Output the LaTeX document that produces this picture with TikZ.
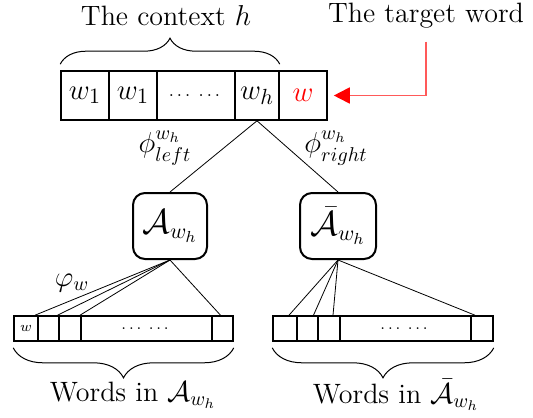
\documentclass[tikz,border=0pt]{standalone}
\usepackage{amsmath}
\usepackage{amsfonts}
\usetikzlibrary{shapes, arrows.meta, decorations.pathreplacing}

\begin{document}
\begin{tikzpicture}[x=0.5pt, y=-0.5pt, font=\fontsize{14}{17}\selectfont,
        cell/.style = {draw, line width=0.8pt, inner sep=0pt, minimum height=24.5pt, font=\fontsize{15}{18}\selectfont},
        slot/.style = {draw, line width=0.8pt, inner sep=0pt, minimum height=12.5pt},
        wset/.style = {draw, line width=1pt, rounded corners=6pt, minimum width=37pt, minimum height=33pt, font=\fontsize{16}{19}\selectfont},
        brc/.style = {decorate, decoration={brace, amplitude=#1}, line width=0.5pt},
        brc/.default = 13pt]
        \useasboundingbox (0, 0) rectangle (533, 417);

        % the context and the target word
        \node[cell, minimum width=24pt] at (85, 95.5) (c1) {$w_1$};
        \node[cell, minimum width=24pt] at (133, 95.5) (c2) {$w_1$};
        \node[cell, minimum width=39pt, font=\small] at (196, 95.5) (c3) {$\dots\;\dots$};
        \node[cell, minimum width=22pt] at (257, 95.5) (c4) {$w_h$};
        \node[cell, minimum width=24pt, text=red] at (303, 95.5) (c5) {$w$};

        \node at (166, 16) (ctx) {The context $h$};
        \node at (426, 16) (tgt) {The target word};

        \draw[brc] ([yshift=3pt]c1.north west) -- ([yshift=3pt]c4.north east);
        \draw[red!65, line width=0.9pt, shorten <=3pt, shorten >=3pt,
            -{Triangle[length=8pt, width=8pt, color=red]}] (tgt.south) |- (c5.east);

        % the two sets
        \node[wset] at (170, 226) (A) {$\mathcal{A}_{w_h}$};
        \node[wset, minimum width=38pt] at (338, 226) (B) {$\bar{\mathcal{A}}_{w_h}$};

        \draw[line width=0.4pt] (c4.south) -- (A.north);
        \draw[line width=0.4pt] (c4.south) -- (B.north);
        \node at (165, 148) (phl) {$\phi^{w_h}_{left}$};
        \node at (336, 148) (phr) {$\phi^{w_h}_{right}$};

        % words in the sets
        \node[slot, minimum width=12pt, font=\scriptsize] at (26, 328.5) (l1) {$w$};
        \node[slot, minimum width=10.5pt] at (48.5, 328.5) (l2) {};
        \node[slot, minimum width=11pt] at (70, 328.5) (l3) {};
        \node[slot, minimum width=65.5pt, font=\footnotesize] at (146.5, 328.5) (l4) {$\dots\;\dots$};
        \node[slot, minimum width=10.5pt] at (222.5, 328.5) (l5) {};

        \node[slot, minimum width=12pt] at (285, 328.5) (r1) {};
        \node[slot, minimum width=10.5pt] at (307.5, 328.5) (r2) {};
        \node[slot, minimum width=11pt] at (329, 328.5) (r3) {};
        \node[slot, minimum width=65.5pt, font=\footnotesize] at (405.5, 328.5) (r4) {$\dots\;\dots$};
        \node[slot, minimum width=11pt] at (482, 328.5) (r5) {};

        \draw[line width=0.4pt] (A.south) -- ([xshift=4.5pt]l1.north);
        \draw[line width=0.4pt] (A.south) -- ([xshift=4.5pt]l2.north);
        \draw[line width=0.4pt] (A.south) -- ([xshift=5pt]l3.north);
        \draw[line width=0.4pt] (A.south) -- ([xshift=-1pt]l5.north);
        \draw[line width=0.4pt] (B.south) -- ([xshift=2pt]r1.north);
        \draw[line width=0.4pt] (B.south) -- ([xshift=3pt]r2.north);
        \draw[line width=0.4pt] (B.south) -- ([xshift=2pt]r3.north);
        \draw[line width=0.4pt] (B.south) -- ([xshift=-3.5pt]r5.north);
        \node at (72, 283) (vphi) {$\varphi_w$};

        \draw[brc=15pt] ([yshift=-3pt]l5.south east) -- ([yshift=-3pt]l1.south west);
        \draw[brc=15pt] ([yshift=-3pt]r5.south east) -- ([yshift=-3pt]r1.south west);
        \node at (133, 395) (wl) {Words in $\mathcal{A}_{w_h}$};
        \node at (396, 395) (wr) {Words in $\bar{\mathcal{A}}_{w_h}$};
\end{tikzpicture}
\end{document}
